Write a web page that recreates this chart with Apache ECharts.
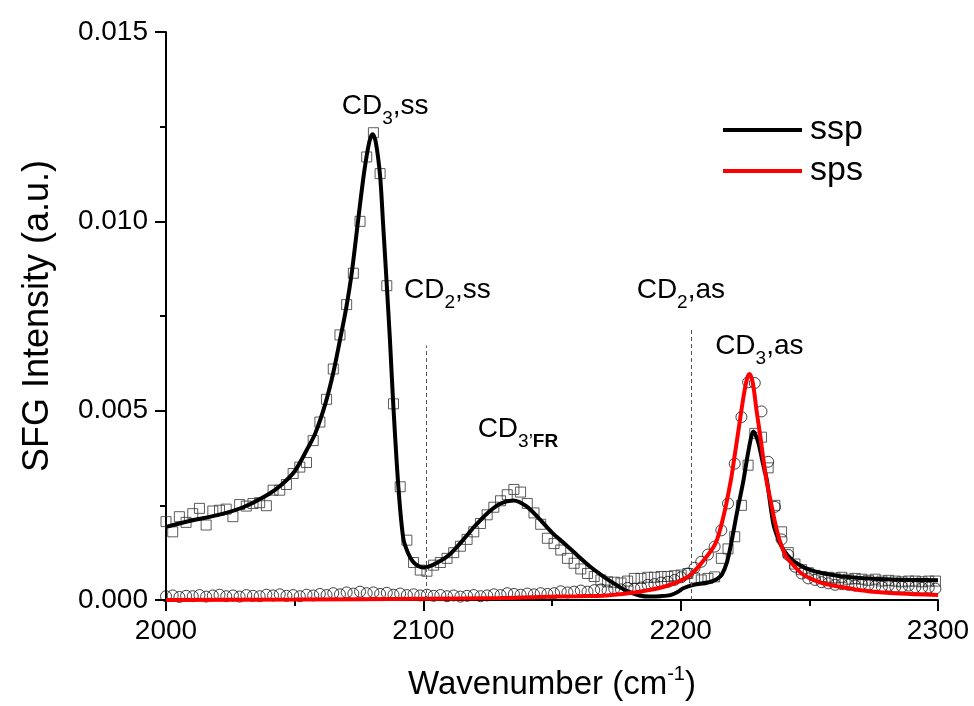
<!DOCTYPE html>
<html>
<head>
<meta charset="utf-8">
<script src="https://cdn.jsdelivr.net/npm/echarts@6/dist/echarts.min.js"></script>
<style>
  html, body { margin: 0; padding: 0; background: #fff; }
  #chart { width: 974px; height: 706px; }
</style>
</head>
<body>
<div id="chart"></div>
<script>
// wavenumber of each measured point (cm-1)
const waveNumbers = [
  2000.0, 2002.6, 2005.2, 2007.8, 2010.4, 2013.0, 2015.6, 2018.2, 2020.8, 2023.4,
  2026.0, 2028.6, 2031.2, 2033.8, 2036.4, 2039.0, 2041.6, 2044.2, 2046.8, 2049.4,
  2052.0, 2054.6, 2057.2, 2059.8, 2062.4, 2065.0, 2067.6, 2070.2, 2072.8, 2075.4,
  2078.0, 2080.6, 2083.2, 2085.8, 2088.4, 2091.0, 2093.6, 2096.2, 2098.8, 2101.4,
  2104.0, 2106.6, 2109.2, 2111.8, 2114.4, 2117.0, 2119.6, 2122.2, 2124.8, 2127.4,
  2130.0, 2132.6, 2135.2, 2137.8, 2140.4, 2143.0, 2145.6, 2148.2, 2150.8, 2153.4,
  2156.0, 2158.6, 2161.2, 2163.8, 2166.4, 2169.0, 2171.6, 2174.2, 2176.8, 2179.4,
  2182.0, 2184.6, 2187.2, 2189.8, 2192.4, 2195.0, 2197.6, 2200.2, 2202.8, 2205.4,
  2208.0, 2210.6, 2213.2, 2215.8, 2218.4, 2221.0, 2223.6, 2226.2, 2228.8, 2231.4,
  2234.0, 2236.6, 2239.2, 2241.8, 2244.4, 2247.0, 2249.6, 2252.2, 2254.8, 2257.4,
  2260.0, 2262.6, 2265.2, 2267.8, 2270.4, 2273.0, 2275.6, 2278.2, 2280.8, 2283.4,
  2286.0, 2288.6, 2291.2, 2293.8, 2296.4, 2299.0
];

// ssp measured intensity (open squares)
const sspData = [
  0.00207, 0.00180, 0.00220, 0.00205, 0.00228, 0.00242, 0.00198, 0.00235, 0.00237, 0.00240,
  0.00220, 0.00252, 0.00248, 0.00255, 0.00257, 0.00249, 0.00290, 0.00290, 0.00305, 0.00334,
  0.00351, 0.00363, 0.00421, 0.00470, 0.00530, 0.00610, 0.00700, 0.00780, 0.00863, 0.01000,
  0.01170, 0.01234, 0.01126, 0.00830, 0.00518, 0.00299, 0.00158, 0.00099, 0.00079, 0.00076,
  0.00092, 0.00099, 0.00110, 0.00125, 0.00142, 0.00160, 0.00180, 0.00202, 0.00225, 0.00245,
  0.00262, 0.00278, 0.00292, 0.00285, 0.00255, 0.00230, 0.00200, 0.00163, 0.00149, 0.00132,
  0.00110, 0.00097, 0.00082, 0.00070, 0.00062, 0.00053, 0.00048, 0.00047, 0.00045, 0.00050,
  0.00057, 0.00057, 0.00060, 0.00060, 0.00062, 0.00062, 0.00064, 0.00066, 0.00070, 0.00058,
  0.00053, 0.00057, 0.00061, 0.00110, 0.00135, 0.00167, 0.00250, 0.00356, 0.00440, 0.00430,
  0.00349, 0.00250, 0.00180, 0.00125, 0.00095, 0.00080, 0.00072, 0.00065, 0.00062, 0.00060,
  0.00058, 0.00060, 0.00055, 0.00057, 0.00055, 0.00052, 0.00055, 0.00050, 0.00052, 0.00050,
  0.00048, 0.00050, 0.00050, 0.00048, 0.00050, 0.00050
];

// sps measured intensity (open circles)
const spsData = [
  0.00010, 0.00012, 0.00008, 0.00011, 0.00010, 0.00013, 0.00009, 0.00012, 0.00014, 0.00010,
  0.00012, 0.00009, 0.00013, 0.00011, 0.00010, 0.00014, 0.00012, 0.00015, 0.00011, 0.00013,
  0.00010, 0.00014, 0.00012, 0.00016, 0.00013, 0.00018, 0.00015, 0.00020, 0.00017, 0.00022,
  0.00018, 0.00020, 0.00016, 0.00019, 0.00014, 0.00017, 0.00013, 0.00015, 0.00012, 0.00014,
  0.00011, 0.00013, 0.00010, 0.00012, 0.00009, 0.00011, 0.00013, 0.00010, 0.00012, 0.00015,
  0.00013, 0.00018, 0.00016, 0.00014, 0.00017, 0.00015, 0.00018, 0.00016, 0.00018, 0.00023,
  0.00020, 0.00022, 0.00025, 0.00022, 0.00026, 0.00028, 0.00025, 0.00030, 0.00028, 0.00032,
  0.00030, 0.00033, 0.00040, 0.00042, 0.00046, 0.00048, 0.00053, 0.00060, 0.00070, 0.00085,
  0.00101, 0.00120, 0.00141, 0.00184, 0.00255, 0.00360, 0.00483, 0.00575, 0.00573, 0.00498,
  0.00365, 0.00246, 0.00160, 0.00119, 0.00088, 0.00070, 0.00057, 0.00053, 0.00047, 0.00044,
  0.00040, 0.00042, 0.00040, 0.00038, 0.00042, 0.00040, 0.00036, 0.00035, 0.00038, 0.00035,
  0.00035, 0.00038, 0.00034, 0.00032, 0.00033, 0.00030
];

// fitted curves: [wavenumber, intensity]
const sspFit = [
  [2000, 0.00193], [2010, 0.00210], [2020, 0.00224], [2030, 0.00245], [2040, 0.00280],
  [2045, 0.00305], [2050, 0.00340], [2055, 0.00400], [2058, 0.00440], [2062, 0.00520],
  [2065, 0.00600], [2068, 0.00700], [2070, 0.00770], [2072.2, 0.00865], [2074.7, 0.01005],
  [2077, 0.01130], [2079, 0.01210], [2080.3, 0.01230], [2081.5, 0.01210], [2083.2, 0.01120],
  [2084.3, 0.01000], [2085.5, 0.00865], [2087, 0.00690], [2088.3, 0.00518], [2090.3, 0.00299],
  [2092.2, 0.00163], [2094, 0.00125], [2096, 0.00101], [2098, 0.00090], [2100, 0.00086],
  [2102, 0.00088], [2105, 0.00097], [2110, 0.00119], [2115, 0.00155], [2120, 0.00195],
  [2125, 0.00230], [2130, 0.00255], [2135, 0.00263], [2140, 0.00248], [2145, 0.00215],
  [2150, 0.00178], [2155, 0.00148], [2160, 0.00117], [2165, 0.00087], [2170, 0.00062],
  [2175, 0.00040], [2179, 0.00024], [2184, 0.00012], [2188, 0.00009], [2192, 0.00010],
  [2196, 0.00013], [2199, 0.00022], [2201, 0.00031], [2205, 0.00040], [2211, 0.00047],
  [2214, 0.00055], [2216, 0.00067], [2218, 0.00100], [2219.5, 0.00145], [2221.8, 0.00228],
  [2224.4, 0.00316], [2226.5, 0.00400], [2228.3, 0.00445], [2230, 0.00420], [2232, 0.00360],
  [2233.5, 0.00316], [2236, 0.00202], [2238, 0.00160], [2240, 0.00132], [2243, 0.00108],
  [2246.4, 0.00092], [2250, 0.00080], [2255.5, 0.00070], [2262, 0.00063], [2268.4, 0.00059],
  [2280, 0.00055], [2290, 0.00053], [2300, 0.00052]
];

const spsFit = [
  [2000, 0.00000], [2050, 0.00001], [2100, 0.00003], [2130, 0.00005], [2145, 0.00008],
  [2160, 0.00010], [2171, 0.00012], [2184, 0.00022], [2194.5, 0.00037], [2203, 0.00062],
  [2208, 0.00097], [2213.5, 0.00149], [2216.6, 0.00220], [2219.5, 0.00316], [2220.8, 0.00373],
  [2222.5, 0.00450], [2224.5, 0.00540], [2225.8, 0.00585], [2226.7, 0.00597], [2228, 0.00575],
  [2229.5, 0.00500], [2231, 0.00430], [2232.1, 0.00373], [2233.5, 0.00310], [2235, 0.00260],
  [2236.5, 0.00210], [2238.6, 0.00154], [2241, 0.00115], [2243.8, 0.00092], [2247, 0.00070],
  [2251.6, 0.00053], [2256, 0.00043], [2262, 0.00035], [2268, 0.00028], [2275, 0.00022],
  [2285, 0.00017], [2300, 0.00013]
];

// guide lines at CD2 positions: [wavenumber, top of line]
const guideLines = [[2101, 0.00672], [2204, 0.00713]];

// peak labels: [left wavenumber, baseline intensity, rich text]
const peakLabels = [
  [2068.3, 0.012795, '{m|CD}{s|3}{m|,ss}'],
  [2092.5, 0.007948, '{m|CD}{s|2}{m|,ss}'],
  [2182.9, 0.007948, '{m|CD}{s|2}{m|,as}'],
  [2213.4, 0.006454, '{m|CD}{s|3}{m|,as}'],
  [2121.1, 0.004260, '{m|CD}{s|3\u2019}{b|FR}']
];

const FONT = '"Liberation Sans", Arial, sans-serif';
const chart = echarts.init(document.getElementById('chart'));

const pairs = (ys) => waveNumbers.map((x, i) => [x, ys[i]]);

chart.setOption({
  animation: false,
  textStyle: { fontFamily: FONT, color: '#000' },
  grid: { left: 166, right: 36, top: 32, bottom: 104 },
  legend: {
    data: ['ssp', 'sps'],
    orient: 'vertical',
    left: 718,
    top: 108,
    itemWidth: 79,
    itemHeight: 4,
    itemGap: 7,
    icon: 'rect',
    textStyle: { fontSize: 34, lineHeight: 34, fontFamily: FONT, color: '#000', padding: [0, 0, 0, 3] }
  },
  xAxis: {
    type: 'value',
    min: 2000,
    max: 2300,
    interval: 100,
    name: '{a|Wavenumber (cm}{b|-1}{a|)}',
    nameLocation: 'middle',
    nameGap: 68,
    nameTextStyle: {
      rich: {
        a: { fontSize: 33, fontFamily: FONT, color: '#000', verticalAlign: 'top', lineHeight: 33 },
        b: { fontSize: 20, fontFamily: FONT, color: '#000', verticalAlign: 'top', lineHeight: 20, padding: [-4, 0, 0, 0] }
      }
    },
    axisLine: { lineStyle: { color: '#000', width: 2 } },
    axisTick: { length: 11, lineStyle: { color: '#000', width: 2 } },
    minorTick: { show: true, splitNumber: 2, length: 6, lineStyle: { color: '#000', width: 2 } },
    axisLabel: { fontSize: 28, fontFamily: FONT, color: '#000', margin: 17, formatter: (v) => String(v) },
    splitLine: { show: false }
  },
  yAxis: {
    type: 'value',
    min: 0,
    max: 0.015,
    interval: 0.005,
    name: 'SFG Intensity (a.u.)',
    nameLocation: 'middle',
    nameGap: 110,
    nameTextStyle: { fontSize: 36, fontFamily: FONT, color: '#000' },
    axisLine: { show: true, lineStyle: { color: '#000', width: 2 } },
    axisTick: { show: true, length: 11, lineStyle: { color: '#000', width: 2 } },
    minorTick: { show: true, splitNumber: 2, length: 6, lineStyle: { color: '#000', width: 2 } },
    axisLabel: { fontSize: 28, fontFamily: FONT, color: '#000', margin: 18, formatter: (v) => v.toFixed(3) },
    splitLine: { show: false }
  },
  series: [
    {
      name: 'ssp data',
      type: 'scatter',
      data: pairs(sspData),
      symbol: 'rect',
      symbolSize: 10,
      itemStyle: { color: 'rgba(0,0,0,0)', borderColor: '#333', borderWidth: 1 },
      silent: true,
      z: 2
    },
    {
      name: 'sps data',
      type: 'scatter',
      data: pairs(spsData),
      symbol: 'circle',
      symbolSize: 11,
      itemStyle: { color: 'rgba(0,0,0,0)', borderColor: '#111', borderWidth: 1 },
      silent: true,
      z: 2
    },
    {
      name: 'ssp',
      type: 'line',
      data: sspFit,
      smooth: 0.3,
      showSymbol: false,
      color: '#000',
      lineStyle: { color: '#000', width: 4 },
      z: 3,
      markLine: {
        silent: true,
        symbol: 'none',
        label: { show: false },
        lineStyle: { color: '#555', width: 1, type: [4, 3] },
        data: guideLines.map(([x, top]) => [{ coord: [x, 0] }, { coord: [x, top] }])
      }
    },
    {
      name: 'sps',
      type: 'line',
      data: spsFit,
      smooth: 0.3,
      showSymbol: false,
      color: '#f00',
      lineStyle: { color: '#f00', width: 4 },
      z: 4
    }
  ]
});

// place peak labels at their data positions
const labelRich = {
  m: { fontSize: 28, lineHeight: 28, fontFamily: FONT, fill: '#000', verticalAlign: 'top' },
  s: { fontSize: 19, lineHeight: 19, fontFamily: FONT, fill: '#000', verticalAlign: 'top', padding: [17, 0, 0, 0] },
  b: { fontSize: 19, lineHeight: 19, fontFamily: FONT, fill: '#000', fontWeight: 'bold', verticalAlign: 'top', padding: [17, 0, 0, 0] }
};

chart.setOption({
  graphic: peakLabels.map(([x, y, text]) => {
    const p = chart.convertToPixel({ gridIndex: 0 }, [x, y]);
    return {
      type: 'text',
      x: p[0],
      y: p[1] - 23,
      silent: true,
      style: { text: text, rich: labelRich, align: 'left', verticalAlign: 'top', fill: '#000' }
    };
  })
});
</script>
</body>
</html>
